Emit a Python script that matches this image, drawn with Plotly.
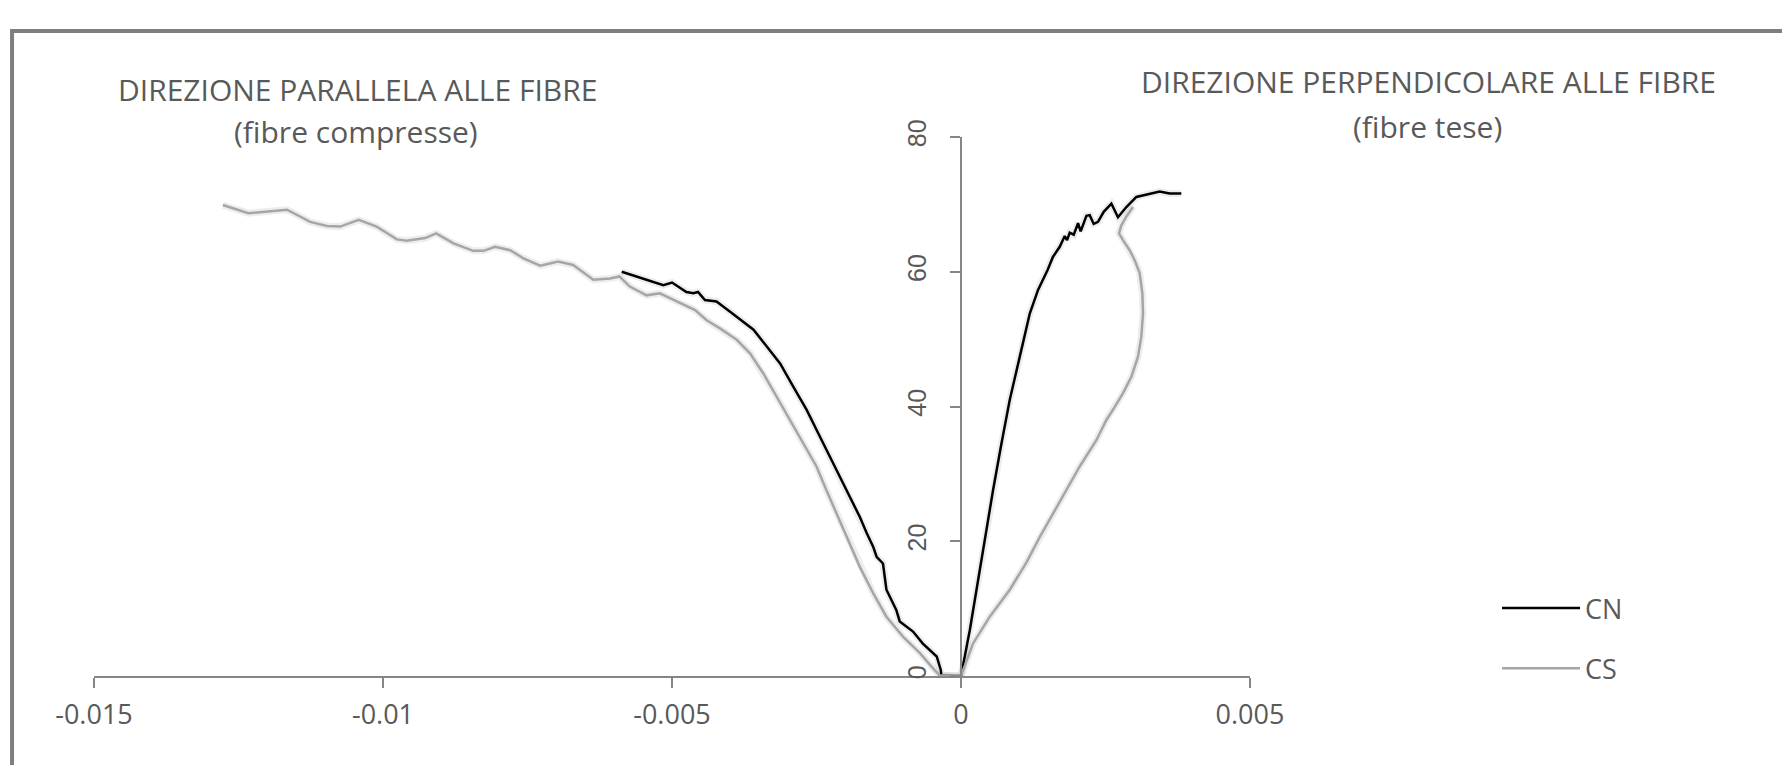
import plotly.graph_objects as go

# ---- data (strain, stress) ----
cn_par_x = [-0.00587, -0.00555, -0.00515, -0.00500, -0.00475, -0.00463, -0.00455, -0.00443, -0.00423,
            -0.00400, -0.00377, -0.00359, -0.00336, -0.00313, -0.00290, -0.00267, -0.00244, -0.00221,
            -0.00198, -0.00175, -0.00163, -0.00152, -0.00146, -0.00135, -0.00129, -0.00112, -0.00106,
            -0.00083, -0.00066, -0.00042, -0.00035, -0.00034, -0.00014, 0.0]
cn_par_y = [60.0, 59.1, 58.0, 58.4, 57.0, 56.8, 57.0, 55.8, 55.6,
            54.1, 52.6, 51.4, 48.9, 46.4, 42.9, 39.5, 35.5, 31.6,
            27.6, 23.6, 21.2, 19.2, 17.7, 16.7, 12.8, 9.8, 8.1,
            6.6, 4.8, 2.9, 0.9, 0.1, 0.0, 0.0]

cn_perp_x = [0.0, 0.000152, 0.000325, 0.00040, 0.000555, 0.00070, 0.000844, 0.001017, 0.00119,
             0.001333, 0.001500, 0.00159, 0.001708, 0.001795, 0.001835, 0.001881, 0.00195, 0.002025,
             0.00207, 0.00217, 0.002227, 0.002296, 0.00237, 0.002469, 0.002602, 0.002716, 0.002861,
             0.003034, 0.003264, 0.003437, 0.00361, 0.003812]
cn_perp_y = [0.0, 6.8, 15.7, 20.2, 27.6, 34.5, 41.0, 47.4, 53.8,
             57.3, 60.3, 62.2, 63.7, 65.3, 64.7, 65.8, 65.5, 67.2,
             66.0, 68.3, 68.4, 67.1, 67.4, 68.9, 70.1, 68.1, 69.6,
             71.1, 71.6, 71.9, 71.6, 71.6]

cs_par_x = [-0.01277, -0.01233, -0.01166, -0.01126, -0.01097, -0.01074, -0.01042, -0.01011, -0.00976,
            -0.00959, -0.00927, -0.00908, -0.00878, -0.00844, -0.00826, -0.00806, -0.00780, -0.00757,
            -0.00728, -0.00697, -0.00671, -0.00636, -0.00607, -0.00591, -0.00573, -0.00544, -0.00521,
            -0.00486, -0.00460, -0.00440, -0.00417, -0.00388, -0.00365, -0.00342, -0.00319, -0.00296,
            -0.00273, -0.00250, -0.00233, -0.00215, -0.00198, -0.00175, -0.00152, -0.00129, -0.00100,
            -0.00071, -0.00048, -0.00037, 0.0]
cs_par_y = [69.9, 68.7, 69.2, 67.4, 66.8, 66.7, 67.7, 66.7, 64.8,
            64.6, 65.0, 65.7, 64.2, 63.1, 63.1, 63.7, 63.2, 62.0,
            60.9, 61.5, 61.0, 58.8, 59.0, 59.3, 57.8, 56.5, 56.8,
            55.3, 54.3, 52.8, 51.6, 49.9, 47.9, 44.9, 41.5, 38.0,
            34.5, 31.1, 27.6, 24.1, 20.7, 16.2, 12.3, 8.8, 5.8,
            3.4, 1.1, 0.1, 0.0]

cs_perp_x = [0.0, 0.00021, 0.000498, 0.000844, 0.001135, 0.001362, 0.001592, 0.001823, 0.002054,
             0.002342, 0.002515, 0.00265, 0.002803, 0.002948, 0.003062, 0.00312, 0.003149, 0.003138,
             0.003091, 0.003005, 0.002918, 0.002803, 0.002734, 0.002775, 0.002861, 0.002976]
cs_perp_y = [0.0, 4.85, 8.8, 12.8, 16.9, 20.6, 24.1, 27.6, 31.1,
             35.0, 38.0, 39.8, 42.0, 44.4, 47.4, 50.4, 53.8, 56.8,
             59.8, 61.7, 63.2, 64.7, 65.7, 66.9, 68.2, 69.6]

x_tickvals = [-0.015, -0.01, -0.005, 0, 0.005]
x_ticktext = ["-0.015", "-0.01", "-0.005", "0", "0.005"]
y_tickvals = [0, 20, 40, 60, 80]

series = [
    ("CN", cn_par_x + cn_perp_x[1:], cn_par_y + cn_perp_y[1:], "#000000"),
    ("CS", cs_par_x + cs_perp_x[1:], cs_par_y + cs_perp_y[1:], "#A6A6A6"),
]

TXT = "#595959"
FONT = "Open Sans"
AXC = "#868686"

# page has an 8px body margin; plot area spans page x 94..1250, y 137..676
ML, MT, PW, PH = 86, 129, 1156, 539
W, H = 1782, 757

fig = go.Figure()
# soft shadow under lines
for name, xs, ys, col in series:
    fig.add_trace(go.Scatter(x=xs, y=ys, mode="lines", showlegend=False, hoverinfo="skip",
                             line=dict(color="rgba(0,0,0,0.07)", width=7)))
for i, (name, xs, ys, col) in enumerate(series):
    fig.add_trace(go.Scatter(x=xs, y=ys, mode="lines", name=name, legendgroup=name,
                             line=dict(color=col, width=2.5)))

fig.update_layout(
    width=W, height=H,
    margin=dict(l=ML, r=W - ML - PW, t=MT, b=H - MT - PH),
    paper_bgcolor="white", plot_bgcolor="white",
    showlegend=True,
    legend=dict(x=1.2137, y=0.1707, xanchor="left", yanchor="top",
                font=dict(family=FONT, size=27, color=TXT),
                tracegroupgap=22, itemwidth=78, bgcolor="rgba(0,0,0,0)"),
    xaxis=dict(range=[-0.015, 0.005], tickvals=x_tickvals, ticktext=x_ticktext,
               showgrid=False, zeroline=False, showline=True, linecolor=AXC, linewidth=1.5,
               ticks="outside", ticklen=10, tickcolor=AXC, tickwidth=1.5,
               tickfont=dict(family=FONT, size=27, color=TXT), ticklabelstandoff=4),
    yaxis=dict(range=[0, 80], tickvals=y_tickvals, anchor="free", position=0.75,
               showgrid=False, zeroline=False, showline=True, linecolor=AXC, linewidth=1.5,
               ticks="outside", ticklen=10, tickcolor=AXC, tickwidth=1.5, tickangle=-90,
               tickfont=dict(family="Liberation Sans", size=25, color=TXT), ticklabelstandoff=14),
    shapes=[dict(type="rect", xref="paper", yref="paper",
                 x0=-0.0709, x1=1.48, y0=-0.2, y1=1.1967,
                 line=dict(color="#7F7F7F", width=4), fillcolor="rgba(0,0,0,0)", layer="below")],
)

ann = [
    ("DIREZIONE PARALLELA ALLE FIBRE", 357, 89.5),
    ("(fibre compresse)", 356, 131),
    ("DIREZIONE PERPENDICOLARE ALLE FIBRE", 1428, 81.7),
    ("(fibre tese)", 1427, 126.5),
]
for text, px, py in ann:
    fig.add_annotation(text=text, xref="paper", yref="paper",
                       x=(px - 94) / PW, y=(676 - py) / PH,
                       xanchor="center", yanchor="middle", showarrow=False,
                       font=dict(family=FONT, size=30, color=TXT))

fig.write_html("out.html")
